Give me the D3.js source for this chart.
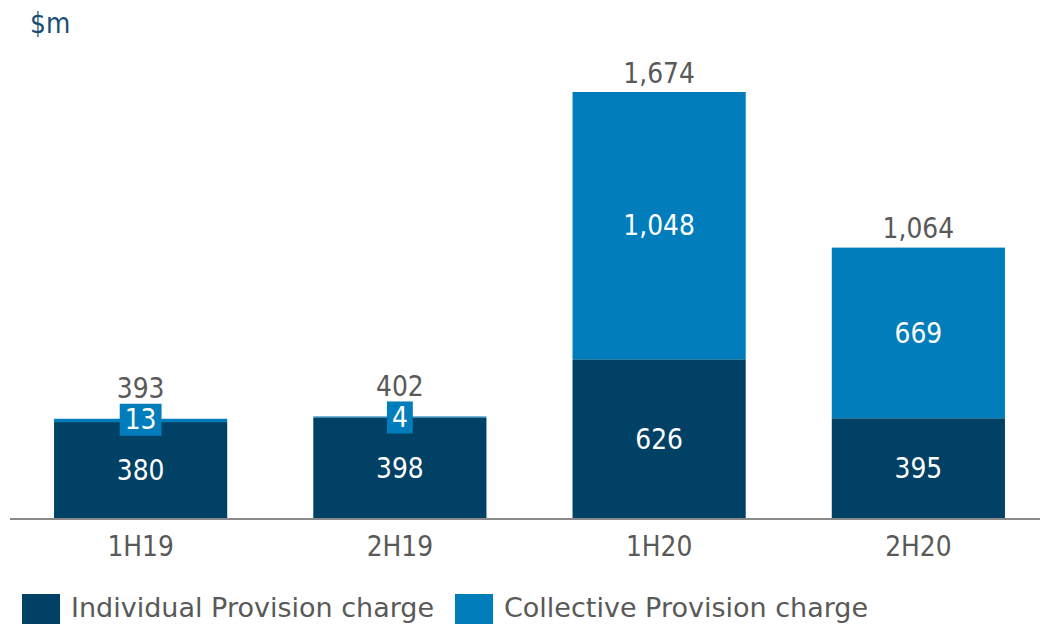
<!DOCTYPE html>
<html><head><meta charset="utf-8">
<script src="https://cdn.jsdelivr.net/npm/d3@7"></script>
<style>body{margin:0;background:#fff}svg{display:block}text{font-family:"DejaVu Sans",Verdana,sans-serif}</style>
</head><body>
<svg id="c" width="1040" height="624"></svg>
<script>
const categories = ["1H19","2H19","1H20","2H20"];
const individual = [380,398,626,395];
const collective = [13,4,1048,669];
const totals = [393,402,1674,1064];
const seriesNames = ["Individual Provision charge","Collective Provision charge"];
const colors = ["#004165","#007dba"];

const svg = d3.select("#c");
const baseY = 519;
const x = d3.scaleBand().domain(categories).range([11,1048]).paddingInner(0.332).paddingOuter(0.166);
const y = d3.scaleLinear().domain([0,1674]).range([baseY,92]);
const fmt = d3.format(",");
const fs = 25;

const data = categories.map((c,i)=>({c, ind:individual[i], col:collective[i], tot:totals[i]}));

svg.selectAll(".ind").data(data).join("rect")
  .attr("x",d=>x(d.c)).attr("width",x.bandwidth())
  .attr("y",d=>y(d.ind)).attr("height",d=>baseY-y(d.ind)).attr("fill",colors[0]);
svg.selectAll(".col").data(data).join("rect")
  .attr("x",d=>x(d.c)).attr("width",x.bandwidth())
  .attr("y",d=>y(d.ind+d.col)).attr("height",d=>y(d.ind)-y(d.ind+d.col)).attr("fill",colors[1]);

const axis = svg.append("g").attr("transform",`translate(0,${baseY})`).call(d3.axisBottom(x).tickSize(0).tickPadding(18));
axis.select(".domain").attr("stroke","#8a8a8a").attr("stroke-width",2).attr("d","M10,0H1040");
axis.selectAll("text").attr("font-size",fs).attr("fill","#595959").attr("font-family","DejaVu Sans, Verdana, sans-serif").classed("vs",true);

data.forEach(d=>{
  const cx = x(d.c)+x.bandwidth()/2;
  svg.append("text").attr("class","vs").attr("x",cx).attr("y",(y(d.ind)+baseY)/2).attr("dy","0.35em")
    .attr("text-anchor","middle").attr("fill","#fff").attr("font-size",fs).text(fmt(d.ind));
  const h = y(d.ind)-y(d.ind+d.col);
  if(h>40){
    svg.append("text").attr("class","vs").attr("x",cx).attr("y",(y(d.ind)+y(d.ind+d.col))/2).attr("dy","0.35em")
      .attr("text-anchor","middle").attr("fill","#fff").attr("font-size",fs).text(fmt(d.col));
    svg.append("text").attr("class","vs").attr("x",cx).attr("y",y(d.tot)-19).attr("dy","0.35em")
      .attr("text-anchor","middle").attr("fill","#595959").attr("font-size",fs).text(fmt(d.tot));
  } else {
    const box = svg.append("rect").attr("fill",colors[1]);
    const t = svg.append("text").attr("class","vs").attr("x",cx).attr("y",y(d.tot)+1).attr("dy","0.35em")
      .attr("text-anchor","middle").attr("fill","#fff").attr("font-size",fs).text(fmt(d.col));
    const bb = t.node().getBBox();
    box.attr("x",bb.x-5).attr("y",y(d.tot)-15).attr("width",bb.width+10).attr("height",32);
    svg.append("text").attr("class","vs").attr("x",cx).attr("y",y(d.tot)-30).attr("dy","0.35em")
      .attr("text-anchor","middle").attr("fill","#595959").attr("font-size",fs).text(fmt(d.tot));
  }
});

svg.append("text").attr("class","vs").attr("x",30).attr("y",23).attr("dy","0.35em").attr("fill","#1a4e74").attr("font-size",fs).text("$m");

const legX = [22,455];
seriesNames.forEach((n,i)=>{
  svg.append("rect").attr("x",legX[i]).attr("y",594).attr("width",38).attr("height",30).attr("fill",colors[i]);
  svg.append("text").attr("x",legX[i]+49).attr("y",608).attr("dy","0.35em").attr("fill","#595959").attr("font-size",27).text(n);
});

function vscale(sel,k){
  sel.each(function(){
    const b=this.getBBox(); const cy=b.y+b.height/2;
    d3.select(this).attr("transform",`translate(0,${cy}) scale(1,${k}) translate(0,${-cy})`);
  });
}
vscale(svg.selectAll("text.vs"),1.1);
</script>
</body></html>
